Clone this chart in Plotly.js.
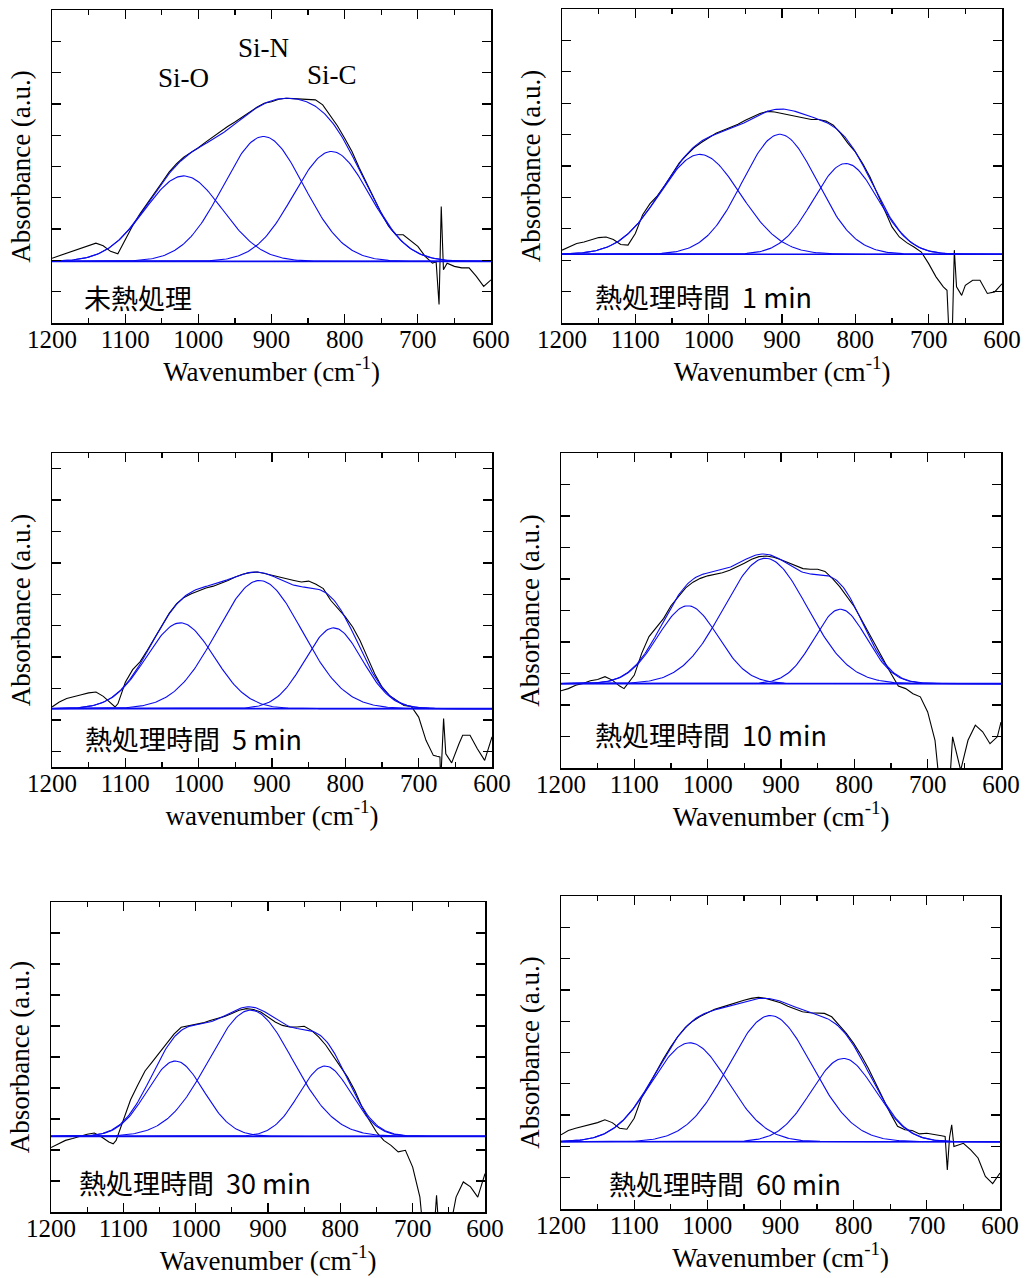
<!DOCTYPE html>
<html><head><meta charset="utf-8">
<script src="https://cdn.plot.ly/plotly-3.0.1.min.js"></script>
<style>body{margin:0;background:#fff}#chart{width:1033px;height:1278px}</style>
</head><body><div id="chart"></div>
<script>
// ---- panel labels ----
const panelLabels = ["未熱処理", "熱処理時間\u00a0\u00a01 min", "熱処理時間\u00a0\u00a05 min",
                     "熱処理時間\u00a0\u00a010 min", "熱処理時間\u00a0\u00a030 min", "熱処理時間\u00a0\u00a060 min"];
const xTitles = ["Wavenumber (cm<sup>-1</sup>)", "Wavenumber (cm<sup>-1</sup>)", "wavenumber (cm<sup>-1</sup>)",
                 "Wavenumber (cm<sup>-1</sup>)", "Wavenumber (cm<sup>-1</sup>)", "Wavenumber (cm<sup>-1</sup>)"];
const bandNames = ["Si-O", "Si-N", "Si-C"];
const xTickVals = [1200, 1100, 1000, 900, 800, 700, 600];

// ---- measured spectra (wavenumber, absorbance a.u.) ----
const wn1 = [1200,1190,1180,1170,1160,1150,1140,1130,1120,1110,1100,1090,1080,1070,1060,1050,1040,1030,1020,1010,1000,990,980,970,960,950,940,930,920,910,900,890,880,870,860,850,840,830,820,810,800,790,780,770,760,750,740,730,720,710,700,690,680,675,671,668,665,660,650,640,630,620,610,600];
const abs1 = [2.07,2.15,2.23,2.32,2.39,2.47,2.55,2.47,2.29,2.21,2.65,3.10,3.48,3.80,4.12,4.48,4.82,5.08,5.30,5.45,5.60,5.78,5.95,6.12,6.28,6.42,6.58,6.74,6.89,7.02,7.07,7.15,7.18,7.17,7.15,7.13,7.13,6.97,6.65,6.30,5.90,5.48,4.95,4.47,3.99,3.51,3.09,2.82,2.82,2.64,2.45,2.13,1.91,1.96,0.59,3.72,1.70,1.91,1.81,1.76,1.76,1.49,1.17,1.38];

const wn2 = [1200,1190,1180,1170,1160,1150,1140,1130,1120,1110,1100,1090,1080,1070,1060,1050,1040,1030,1020,1010,1000,990,980,970,960,950,940,930,920,910,900,890,880,870,860,850,840,830,820,810,800,790,780,770,760,750,740,730,720,710,700,690,680,675,672,668,665,662,655,650,640,630,620,610,600];
const abs2 = [2.32,2.42,2.53,2.58,2.66,2.72,2.74,2.66,2.50,2.48,2.85,3.45,3.80,4.05,4.38,4.75,5.10,5.35,5.58,5.75,5.90,6.04,6.14,6.23,6.33,6.46,6.57,6.67,6.74,6.72,6.67,6.62,6.57,6.51,6.48,6.48,6.43,6.30,6.04,5.72,5.45,5.08,4.65,4.12,3.59,3.06,2.74,2.56,2.42,2.26,1.89,1.47,1.15,1.04,-0.5,-0.5,2.32,1.15,0.88,1.20,1.36,1.36,0.94,0.99,1.25];

const wn3 = [1200,1190,1180,1170,1160,1150,1140,1130,1120,1114,1110,1100,1090,1080,1070,1060,1050,1040,1030,1020,1010,1000,990,980,970,960,950,940,930,920,910,900,890,880,870,860,850,840,830,820,810,800,790,780,770,760,750,740,730,720,710,700,690,680,675,671,670,666,663,655,645,640,630,620,610,600];
const abs3 = [1.91,2.07,2.18,2.25,2.30,2.36,2.39,2.25,2.02,1.91,2.02,2.70,3.10,3.35,3.72,4.12,4.50,4.90,5.20,5.40,5.52,5.62,5.70,5.76,5.84,5.94,6.05,6.14,6.19,6.21,6.16,6.10,6.05,6.00,5.94,5.89,5.92,5.82,5.68,5.31,5.04,4.78,4.46,4.03,3.50,2.97,2.55,2.28,2.12,1.96,1.93,1.59,0.85,0.37,0.34,0.32,-0.5,1.54,0.42,0.13,0.74,1.01,1.01,0.58,0.21,0.96];

const wn4 = [1200,1190,1180,1170,1160,1150,1140,1130,1120,1114,1100,1090,1080,1070,1060,1050,1040,1030,1020,1010,1000,990,980,970,960,950,940,930,920,910,900,890,880,870,860,850,840,830,820,810,800,790,780,770,760,750,740,730,720,710,700,690,684,670,666,663,655,645,635,625,615,605,600];
const abs4 = [2.45,2.52,2.63,2.68,2.77,2.81,2.90,2.79,2.60,2.52,2.95,3.64,4.17,4.45,4.75,5.15,5.42,5.72,5.90,6.02,6.10,6.15,6.20,6.28,6.38,6.50,6.63,6.71,6.73,6.69,6.61,6.52,6.42,6.33,6.31,6.31,6.24,6.02,5.76,5.44,5.12,4.70,4.27,3.85,3.43,3.00,2.60,2.52,2.36,2.26,1.78,0.88,-0.5,-0.5,0.99,0.67,-0.07,0.88,1.36,1.15,0.77,0.99,1.46];

const wn5 = [1200,1190,1180,1170,1160,1150,1140,1130,1120,1114,1110,1100,1090,1080,1070,1060,1050,1040,1030,1020,1010,1000,990,980,970,960,950,940,930,920,910,900,890,880,870,860,850,840,830,820,810,800,790,780,770,760,750,740,730,720,710,700,690,686,670,667,664,648,640,630,620,610,600];
const abs5 = [2.08,2.20,2.31,2.37,2.44,2.51,2.55,2.42,2.26,2.20,2.31,2.96,3.62,4.10,4.55,4.84,5.13,5.44,5.74,5.96,6.00,6.04,6.10,6.18,6.24,6.31,6.40,6.51,6.56,6.53,6.45,6.29,6.13,6.02,5.97,5.97,5.99,5.86,5.65,5.38,5.05,4.68,4.35,3.92,3.39,2.96,2.58,2.31,2.15,1.94,1.99,1.45,0.48,-0.5,-0.5,0.54,-0.5,-0.5,0.48,0.97,0.81,0.48,1.24];

const wn6 = [1200,1190,1180,1170,1160,1150,1140,1130,1120,1110,1100,1090,1080,1070,1060,1050,1040,1030,1020,1010,1000,990,980,970,960,950,940,930,920,910,900,890,880,870,860,850,840,830,820,810,800,790,780,770,760,750,740,730,720,710,700,690,680,675,672,669,666,663,655,650,640,630,620,610,600];
const abs6 = [2.37,2.51,2.58,2.64,2.69,2.76,2.85,2.76,2.58,2.55,2.90,3.55,3.95,4.38,4.80,5.18,5.52,5.80,6.00,6.15,6.27,6.38,6.45,6.53,6.59,6.67,6.73,6.76,6.73,6.67,6.59,6.48,6.38,6.30,6.27,6.25,6.25,6.14,5.88,5.61,5.29,4.92,4.50,4.02,3.54,3.06,2.64,2.53,2.51,2.40,2.42,2.37,2.34,2.32,1.25,2.28,2.69,2.00,2.05,2.10,1.89,1.63,1.04,0.81,1.15];

// ---- Gaussian fit parameters per panel (centre cm-1, height a.u., sigma cm-1) ----
const baseline  = [1.97, 2.19, 1.86, 2.68, 2.44, 2.15];
const centerSiO = [1020, 1012, 1025, 1027, 1028, 1024];
const centerSiN = [911, 903, 917, 921, 924, 914];
const centerSiC = [818, 813, 816, 819, 821, 814];
const heightSiO = [2.73, 3.18, 2.73, 2.47, 2.43, 3.16];
const heightSiN = [3.99, 3.82, 4.08, 3.98, 4.07, 4.03];
const heightSiC = [3.51, 2.89, 2.57, 2.36, 2.27, 2.66];
const sigmaSiO  = [53, 55, 46, 41, 39, 52];
const sigmaSiN  = [55, 51, 58, 57, 58, 57];
const sigmaSiC  = [52, 44, 39, 36, 36, 44];
const yTick0    = [0, 0, 0.5, 0, 0, 0];

// ---- plot-area boxes in pixels [left, right, top, bottom] ----
const W = 1033, H = 1278;
const boxes = [[52,491,10,323],[562,1002,9,323],[52,492,453,767],[561,1001,453,768],[51,485,902,1212],[561,1000,896,1209]];
const labelPos = [[0.068,0.083],[0.07,0.083],[0.07,0.092],[0.073,0.105],[0.06,0.094],[0.105,0.08]];

const wnSpectra = [wn1, wn2, wn3, wn4, wn5, wn6];
const absSpectra = [abs1, abs2, abs3, abs4, abs5, abs6];

const grid = [];
for (let w = 1200; w >= 600; w -= 2) grid.push(w);
const gauss = (c, h, s) => grid.map(w => h * Math.exp(-((w - c) ** 2) / (2 * s * s)));

const BLUE = 'rgb(10,10,240)';
const traces = [];
const layout = {
  width: W, height: H, margin: {l:0, r:0, t:0, b:0},
  paper_bgcolor: '#fff', plot_bgcolor: '#fff', showlegend: false,
  annotations: []
};
const serif = 'Liberation Serif, Times New Roman, serif';

for (let i = 0; i < 6; i++) {
  const n = i + 1;
  const xa = 'x' + (n === 1 ? '' : n), ya = 'y' + (n === 1 ? '' : n);
  const b = baseline[i];
  const g1 = gauss(centerSiO[i], heightSiO[i], sigmaSiO[i]);
  const g2 = gauss(centerSiN[i], heightSiN[i], sigmaSiN[i]);
  const g3 = gauss(centerSiC[i], heightSiC[i], sigmaSiC[i]);
  const line = {color: BLUE, width: 1.1};
  traces.push({x: wnSpectra[i], y: absSpectra[i], xaxis: xa, yaxis: ya, mode: 'lines', line: {color: '#000', width: 1.1}, hoverinfo: 'skip'});
  traces.push({x: [1200, 600], y: [b, b], xaxis: xa, yaxis: ya, mode: 'lines', line: {color: BLUE, width: 1.6}, hoverinfo: 'skip'});
  [g1, g2, g3].forEach(g => traces.push({x: grid, y: g.map(v => v + b), xaxis: xa, yaxis: ya, mode: 'lines', line, hoverinfo: 'skip'}));
  traces.push({x: grid, y: grid.map((_, k) => g1[k] + g2[k] + g3[k] + b), xaxis: xa, yaxis: ya, mode: 'lines', line, hoverinfo: 'skip'});

  const [l, r, t, bt] = boxes[i];
  const axCommon = {showline: true, linecolor: '#000', linewidth: 1.5, mirror: 'ticks', ticks: 'inside',
    tickcolor: '#000', tickwidth: 1.3, showgrid: false, zeroline: false, fixedrange: true};
  layout['xaxis' + (n === 1 ? '' : n)] = Object.assign({}, axCommon, {
    domain: [l / W, r / W], anchor: ya, range: [1200, 600], autorange: false,
    tickmode: 'array', tickvals: xTickVals, ticklen: 9, ticklabelstandoff: -7,
    minor: {dtick: 50, tick0: 0, ticks: 'inside', ticklen: 5, tickwidth: 1.3, tickcolor: '#000'},
    tickfont: {family: serif, size: 25, color: '#000'},
    title: {text: xTitles[i], font: {family: serif, size: 27, color: '#000'}, standoff: 2}
  });
  layout['yaxis' + (n === 1 ? '' : n)] = Object.assign({}, axCommon, {
    domain: [1 - bt / H, 1 - t / H], anchor: xa, range: [0, 10], autorange: false,
    tick0: yTick0[i], dtick: 1, ticklen: 9, showticklabels: false,
    title: {text: 'Absorbance (a.u.)', font: {family: serif, size: 27, color: '#000'}, standoff: 12}
  });
  layout.annotations.push({xref: xa + ' domain', yref: ya + ' domain', x: labelPos[i][0], y: labelPos[i][1],
    xanchor: 'left', yanchor: 'middle', showarrow: false,
    text: panelLabels[i], font: {family: 'Noto Sans CJK JP, sans-serif', size: 27, color: '#000'}});
}
// band labels on the first panel
const bandX = [centerSiO[0], centerSiN[0], centerSiC[0]];
const bandY = [7.83, 8.79, 7.92];
bandNames.forEach((t, k) => layout.annotations.push({xref: 'x', yref: 'y', x: bandX[k], y: bandY[k],
  showarrow: false, text: t, font: {family: serif, size: 27, color: '#000'}}));

Plotly.newPlot('chart', traces, layout, {staticPlot: true});
</script></body></html>
